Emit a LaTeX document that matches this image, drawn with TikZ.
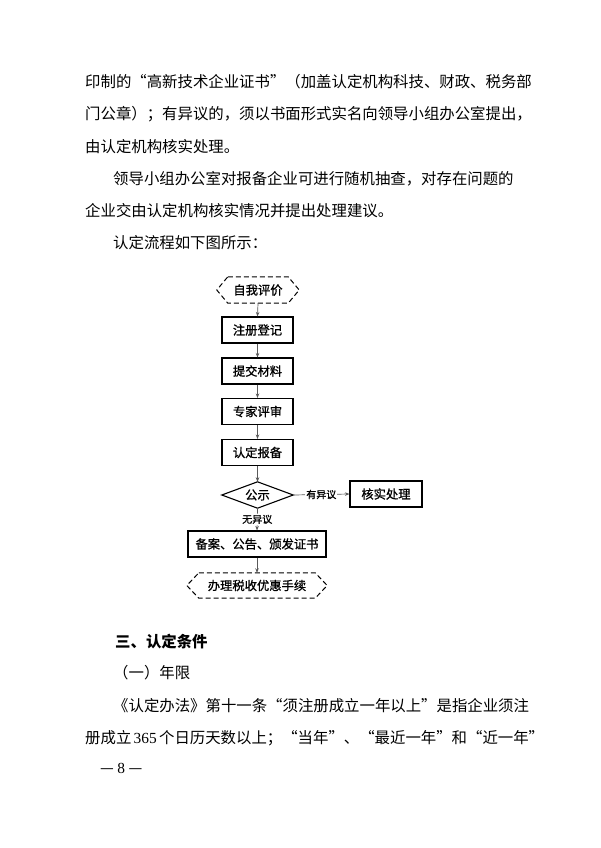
\documentclass[tikz,border=0pt]{standalone}
\usepackage{fontspec}
\setmainfont{Noto Sans CJK SC}
\newfontfamily\lat{Liberation Serif}
\newfontfamily\boxfont[FakeBold=1]{Noto Sans CJK SC}
\usetikzlibrary{arrows.meta}
\XeTeXlinebreaklocale "zh"
\XeTeXlinebreakskip=0pt plus 3pt minus 1pt
\tikzset{
  txt/.style={anchor=base west, inner sep=0pt, font=\fontsize{15.4}{15.4}\selectfont},
  fbox/.style={draw, line width=1.1pt, minimum width=71pt, minimum height=26pt, inner sep=0pt, font=\boxfont\fontsize{12.3}{12.3}\selectfont},
  hexa/.style={minimum height=26pt, inner sep=0pt, font=\boxfont\fontsize{12.3}{12.3}\selectfont},
  hexline/.style={line width=1pt, dash pattern=on 5pt off 3pt},
  arr/.style={draw=black!65, line width=0.7pt, -{Stealth[length=4.5pt,width=3.5pt]}},
  lbl/.style={fill=white, inner sep=1pt, font=\boxfont\fontsize{10}{10}\selectfont}
}
\begin{document}
\begin{tikzpicture}[x=1pt,y=-1pt]
\useasboundingbox (0,0) rectangle (600,848);
\fill[white] (0,0) rectangle (600,848);
% body text
\node[txt] (t1) at (85,88) {\makebox[432pt][s]{印制的“高新技术企业证书”（加盖认定机构科技、财政、税务部}};
\node[txt] (t2) at (85,120) {\makebox[432pt][s]{门公章）；有异议的，须以书面形式实名向领导小组办公室提出，}};
\node[txt] (t3) at (85,152) {由认定机构核实处理。};
\node[txt] (t4) at (113,184) {\makebox[404pt][s]{领导小组办公室对报备企业可进行随机抽查，对存在问题的}};
\node[txt] (t5) at (85,216) {企业交由认定机构核实情况并提出处理建议。};
\node[txt] (t6) at (113,248) {认定流程如下图所示：};
% flowchart
\node[hexa, minimum width=60pt] (h1) at (258,290) {自我评价};
\draw[hexline] (h1.north west) -- (h1.north east) -- ([xshift=11pt]h1.east) -- (h1.south east) -- (h1.south west) -- ([xshift=-11pt]h1.west) -- cycle;
\node[fbox] (b1) at (257.5,330) {注册登记};
\node[fbox] (b2) at (257.5,371) {提交材料};
\node[fbox] (b3) at (257.5,411.5) {专家评审};
\node[fbox] (b4) at (257.5,452.5) {认定报备};
\node[hexa, minimum width=71pt] (d) at (257.5,495) {公示};
\draw[line width=1.1pt] (d.north) -- (d.east) -- (d.south) -- (d.west) -- cycle;
\node[fbox, minimum width=72pt] (c) at (386,494) {核实处理};
\node[fbox, minimum width=138pt] (b5) at (257,544) {备案、公告、颁发证书};
\node[hexa, minimum width=116pt, minimum height=25pt] (h2) at (257,585.5) {办理税收优惠手续};
\draw[hexline] (h2.north west) -- (h2.north east) -- ([xshift=12pt]h2.east) -- (h2.south east) -- (h2.south west) -- ([xshift=-12pt]h2.west) -- cycle;
\draw[arr] (h1.south) -- (b1.north);
\draw[arr] (b1.south) -- (b2.north);
\draw[arr] (b2.south) -- (b3.north);
\draw[arr] (b3.south) -- (b4.north);
\draw[arr] (b4.south) -- (d.north);
\draw[arr] (d.east) -- node[lbl] {有异议} (c.west);
\draw[arr] (d.south) -- node[lbl] {无异议} (b5.north);
\draw[arr] (b5.south) -- (h2.north);
% lower text
\node[txt, font=\fontsize{15.4}{15.4}\selectfont\bfseries] (s1) at (115,647) {三、认定条件};
\node[txt] (s2) at (113,678) {（一）年限};
\node[txt] (s3) at (113,711) {\makebox[404pt][s]{《认定办法》第十一条“须注册成立一年以上”是指企业须注}};
\node[txt] (s4) at (85,743) {\makebox[432pt][s]{册成立 {\lat 365} 个日历天数以上；“当年”、“最近一年”和“近一年”}};
\node[txt] (pg) at (100,773) {— {\lat 8} —};
\end{tikzpicture}
\end{document}
